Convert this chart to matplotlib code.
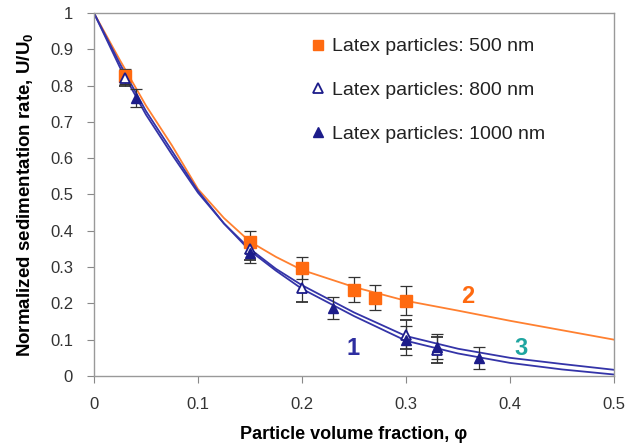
import matplotlib
matplotlib.use("Agg")
import matplotlib.pyplot as plt
from matplotlib.lines import Line2D

plt.rcParams['font.family'] = ['Liberation Sans', 'DejaVu Sans']
plt.rcParams['mathtext.fontset'] = 'custom'
plt.rcParams['mathtext.rm'] = 'Liberation Sans'
plt.rcParams['mathtext.bf'] = 'Liberation Sans:bold'

# Data points (volume fraction, normalized rate, error)
phi_500 = [0.03, 0.15, 0.20, 0.25, 0.27, 0.30]
u_500 = [0.825, 0.37, 0.297, 0.238, 0.216, 0.207]
err_500 = [0.02, 0.03, 0.03, 0.035, 0.035, 0.04]

phi_800 = [0.03, 0.15, 0.20, 0.30, 0.33]
u_800 = [0.82, 0.35, 0.243, 0.113, 0.072]
err_800 = [0.02, 0.03, 0.04, 0.04, 0.035]

phi_1000 = [0.04, 0.15, 0.23, 0.30, 0.33, 0.37]
u_1000 = [0.765, 0.34, 0.187, 0.099, 0.081, 0.05]
err_1000 = [0.025, 0.03, 0.03, 0.04, 0.035, 0.03]

# Model curves
phi_curve = [0, 0.025, 0.05, 0.075, 0.1, 0.125, 0.15, 0.175, 0.2, 0.25, 0.3, 0.35, 0.4, 0.45, 0.5]
curve_1 = [1, 0.85, 0.72, 0.61, 0.505, 0.42, 0.345, 0.29, 0.24, 0.165, 0.097, 0.062, 0.036, 0.018, 0.004]
curve_2 = [1, 0.87, 0.745, 0.635, 0.515, 0.435, 0.37, 0.328, 0.292, 0.245, 0.207, 0.18, 0.152, 0.126, 0.10]
curve_3 = [1, 0.86, 0.73, 0.62, 0.51, 0.42, 0.35, 0.295, 0.25, 0.175, 0.11, 0.075, 0.05, 0.033, 0.017]

labels = ["Latex particles: 500 nm", "Latex particles: 800 nm", "Latex particles: 1000 nm"]
x_ticks = [0, 0.1, 0.2, 0.3, 0.4, 0.5]
y_ticks = [0, 0.1, 0.2, 0.3, 0.4, 0.5, 0.6, 0.7, 0.8, 0.9, 1]

orange = "#FF6A10"
orange_line = "#FF8030"
navy = "#1C1C8A"
blue_line = "#3434A8"
teal = "#1FA5A0"

fig = plt.figure(figsize=(6.26, 4.46), dpi=100)
ax = fig.add_axes([0.150, 0.157, 0.831, 0.814])

ax.plot(phi_curve, curve_2, color=orange_line, lw=1.3, zorder=2)
ax.plot(phi_curve, curve_1, color=blue_line, lw=1.3, zorder=2)
ax.plot(phi_curve, curve_3, color=blue_line, lw=1.3, zorder=2)

eb_kw = dict(ecolor="#333333", elinewidth=0.9, capsize=4, capthick=0.9, linestyle="none", zorder=3)
ax.errorbar(phi_500, u_500, yerr=err_500, fmt="s", color=orange, markersize=8,
            markeredgecolor=orange, **eb_kw)
ax.errorbar(phi_800, u_800, yerr=err_800, fmt="^", color=navy, markersize=7,
            markerfacecolor="white", markeredgecolor=navy, markeredgewidth=1.3, **eb_kw)
ax.errorbar(phi_1000, u_1000, yerr=err_1000, fmt="^", color=navy, markersize=7,
            markeredgecolor=navy, **eb_kw)

ax.text(0.249, 0.077, "1", color="#2E2EA0", fontsize=17, fontweight="bold", ha="center", va="center")
ax.text(0.359, 0.218, "2", color=orange, fontsize=17, fontweight="bold", ha="center", va="center")
ax.text(0.411, 0.077, "3", color=teal, fontsize=17, fontweight="bold", ha="center", va="center")

ax.set_xlim(0, 0.5)
ax.set_ylim(0, 1)
ax.set_xticks(x_ticks)
ax.set_xticklabels([f"{t:g}" for t in x_ticks])
ax.set_yticks(y_ticks)
ax.set_yticklabels([f"{t:g}" for t in y_ticks])
ax.tick_params(direction="out", length=5, width=0.8, color="#888888",
               labelsize=12, labelcolor="#333333")
ax.tick_params(axis="y", pad=10)
ax.tick_params(axis="x", pad=10)
for s in ax.spines.values():
    s.set_color("#999999")
    s.set_linewidth(1.0)

ax.set_xlabel("Particle volume fraction, φ", fontsize=13, fontweight="bold", labelpad=10)
ax.set_ylabel("Normalized sedimentation rate, U/U$_\\mathbf{0}$", fontsize=13.5, fontweight="bold", labelpad=10)

handles = [
    Line2D([], [], linestyle="none", marker="s", markersize=7.5, color=orange, markeredgecolor=orange),
    Line2D([], [], linestyle="none", marker="^", markersize=6.5, markerfacecolor="white",
           markeredgecolor=navy, markeredgewidth=1.3),
    Line2D([], [], linestyle="none", marker="^", markersize=6.5, color=navy),
]
leg = ax.legend(handles, labels, loc="upper left", bbox_to_anchor=(0.377, 0.98), frameon=False,
                fontsize=14, handletextpad=0.15, labelspacing=1.35, handlelength=1.1)
for t in leg.get_texts():
    t.set_color("#222222")

fig.savefig("out.png", dpi=100)
